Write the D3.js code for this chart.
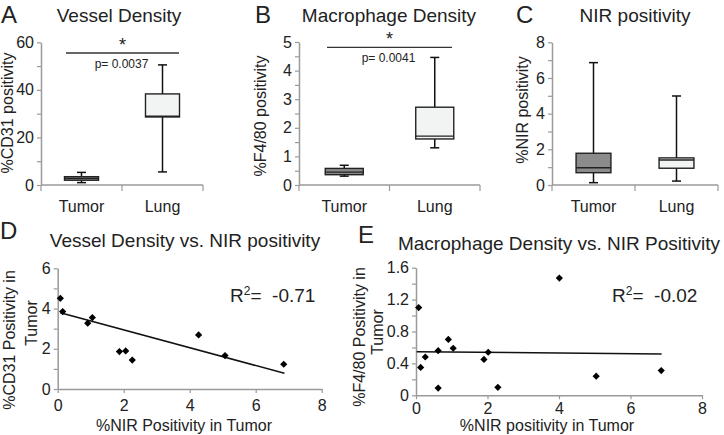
<!DOCTYPE html>
<html><head><meta charset="utf-8">
<script src="https://cdn.jsdelivr.net/npm/d3@7"></script>
<style>
html,body{margin:0;padding:0;background:#fff;}
svg{display:block;font-family:"Liberation Sans",Arial,Helvetica,sans-serif;}
</style></head>
<body>
<svg id="chart" width="724" height="435"></svg>
<script>
// ---------------- DATA ----------------
const categories = ["Tumor", "Lung"];
// box stats per category: [min, q1, median, q3, max]
const cd31Box = [[1.0, 2.0, 2.8, 3.5, 5.3], [5.5, 28.6, 28.9, 38.3, 50.5]];
const f480Box = [[0.31, 0.36, 0.45, 0.58, 0.69], [1.30, 1.61, 1.71, 2.72, 4.46]];
const nirBox  = [[0.13, 0.69, 0.97, 1.78, 6.86], [0.22, 0.94, 1.40, 1.52, 4.99]];
const pValues = ["p= 0.0037", "p= 0.0041"];

// scatter D: vessel density vs NIR
const nirD  = [0.08, 0.15, 0.91, 1.05, 1.87, 2.06, 2.26, 4.27, 5.07, 6.85];
const cd31D = [4.51, 3.85, 3.27, 3.55, 1.86, 1.89, 1.44, 2.69, 1.66, 1.23];
const trendDx = [0.08, 6.87], trendDy = [3.79, 0.78];
const r2D = "-0.71";

// scatter E: macrophage density vs NIR
const nirE  = [0.075, 0.13, 0.26, 0.62, 0.62, 0.905, 1.04, 1.90, 2.02, 2.29, 4.01, 5.04, 6.86];
const f480E = [1.10, 0.35, 0.48, 0.09, 0.56, 0.70, 0.59, 0.45, 0.54, 0.10, 1.47, 0.24, 0.31];
const trendEx = [0.02, 6.87], trendEy = [0.547, 0.518];
const r2E = "-0.02";

// ---------------- DRAW ----------------
const svg = d3.select("#chart");
const AX = "#9a9a9a", TXT = "#222", FONT = 16;
const boxFill = ["#8b8b8b", "#f2f4f4"];

function isMajor(d, step) { return Math.abs(d / step - Math.round(d / step)) < 1e-6; }

function leftAxis(scale, x, max, minor, major, fmt) {
  const g = svg.append("g").attr("transform", `translate(${x},0)`);
  g.call(d3.axisLeft(scale).tickValues(d3.range(0, max + 1e-9, minor))
    .tickSize(4).tickSizeOuter(0).tickPadding(3)
    .tickFormat(d => isMajor(d, major) ? fmt(d) : ""));
  g.select(".domain").attr("stroke", AX).attr("stroke-width", 1.5);
  g.selectAll(".tick line").attr("stroke", AX).attr("stroke-width", 1.2);
  g.selectAll(".tick text").attr("fill", TXT).style("font-size", FONT + "px")
    .style("font-family", "'Liberation Sans',Arial,sans-serif");
  return g;
}
function bottomAxis(scale, y, max, step, pad) {
  const g = svg.append("g").attr("transform", `translate(0,${y})`);
  g.call(d3.axisBottom(scale).tickValues(d3.range(0, max + 1e-9, step))
    .tickSize(4).tickSizeOuter(0).tickPadding(pad).tickFormat(d3.format("d")));
  g.select(".domain").attr("stroke", AX).attr("stroke-width", 1.5);
  g.selectAll(".tick line").attr("stroke", AX).attr("stroke-width", 1.2);
  g.selectAll(".tick text").attr("fill", TXT).style("font-size", FONT + "px")
    .style("font-family", "'Liberation Sans',Arial,sans-serif");
  return g;
}
function text(x, y, s, size, anchor, rot) {
  const t = svg.append("text").attr("x", x).attr("y", y).attr("fill", TXT)
    .style("font-size", size + "px").attr("text-anchor", anchor || "middle").text(s);
  if (rot) t.attr("transform", `rotate(-90,${x},${y})`);
  return t;
}

// ---- box panels ----
const boxPanels = [
  {data: cd31Box, x0: 41, x1: 203, y0: 185, y1: 42.3, max: 60, minor: 10, major: 20,
   letter: "A", lx: 1, title: "Vessel Density", tx: 119, ytitle: "%CD31 positivity", ytx: 13, yty: 113, ysize: 16,
   sig: {value: 55.5, xa: 66, xb: 179, p: pValues[0]}},
  {data: f480Box, x0: 299, x1: 480, y0: 185, y1: 42, max: 5, minor: 0.5, major: 1,
   letter: "B", lx: 255, title: "Macrophage Density", tx: 389, ytitle: "%F4/80 positivity", ytx: 266, yty: 116, ysize: 16,
   sig: {value: 4.81, xa: 327, xb: 452, p: pValues[1]}},
  {data: nirBox, x0: 552, x1: 718, y0: 185, y1: 42.3, max: 8, minor: 1, major: 2,
   letter: "C", lx: 516, title: "NIR positivity", tx: 635, ytitle: "%NIR positivity", ytx: 528, yty: 110, ysize: 16,
   sig: null}
];

boxPanels.forEach(p => {
  const x = d3.scaleBand().domain(categories).range([p.x0, p.x1]);
  const y = d3.scaleLinear().domain([0, p.max]).range([p.y0, p.y1]);
  leftAxis(y, p.x0, p.max, p.minor, p.major, d3.format("d"));
  svg.append("line").attr("x1", p.x0).attr("x2", p.x1).attr("y1", p.y0).attr("y2", p.y0)
    .attr("stroke", AX).attr("stroke-width", 1.5);
  const bounds = [x(categories[0]), x(categories[1]), x(categories[1]) + x.bandwidth()];
  bounds.forEach(b => svg.append("line").attr("x1", b).attr("x2", b).attr("y1", p.y0).attr("y2", p.y0 + 6)
    .attr("stroke", AX).attr("stroke-width", 1.2));
  categories.forEach((c, i) => {
    const cx = x(c) + x.bandwidth() / 2, w = x.bandwidth() * 0.42, s = p.data[i];
    const g = svg.append("g");
    g.append("line").attr("x1", cx).attr("x2", cx).attr("y1", y(s[0])).attr("y2", y(s[4]))
      .attr("stroke", "#111").attr("stroke-width", 1.5);
    [s[0], s[4]].forEach(v => g.append("line").attr("x1", cx - 4.5).attr("x2", cx + 4.5)
      .attr("y1", y(v)).attr("y2", y(v)).attr("stroke", "#111").attr("stroke-width", 1.5));
    g.append("rect").attr("x", cx - w / 2).attr("width", w).attr("y", y(s[3])).attr("height", y(s[1]) - y(s[3]))
      .attr("fill", boxFill[i]).attr("stroke", "#222").attr("stroke-width", 1.4);
    g.append("line").attr("x1", cx - w / 2).attr("x2", cx + w / 2).attr("y1", y(s[2])).attr("y2", y(s[2]))
      .attr("stroke", "#222").attr("stroke-width", 1.4);
    text(cx, 212, c, 16);
  });
  text(p.lx, 23, p.letter, 24, "start");
  text(p.tx, 22, p.title, 19);
  text(p.ytx, p.yty, p.ytitle, p.ysize, "middle", true);
  if (p.sig) {
    const sy = y(p.sig.value);
    svg.append("line").attr("x1", p.sig.xa).attr("x2", p.sig.xb).attr("y1", sy).attr("y2", sy)
      .attr("stroke", "#333").attr("stroke-width", 1.3);
    const mx = (p.sig.xa + p.sig.xb) / 2;
    text(mx, sy - 2, "*", 18);
    text(mx - 1, sy + 15, p.sig.p, 12);
  }
});

// ---- scatter panels ----
const scatPanels = [
  {xs: nirD, ys: cd31D, tx: trendDx, ty: trendDy, x0: 57.7, x1: 321.7, y0: 389, y1: 268.3, ymax: 6, minor: 1, major: 2, pad: 7,
   yfmt: d3.format("d"), letter: "D", lx: 0, ly: 239, title: "Vessel Density vs. NIR positivity", tX: 185, tY: 247,
   yt1: "%CD31 Positivity in", yt1x: 15, yt1y: 340, yt2: "Tumor", yt2x: 37, yt2y: 323,
   xtitle: "%NIR Positivity in Tumor", xtx: 184, xty: 431, r2: r2D, rx: 230, ry: 302},
  {xs: nirE, ys: f480E, tx: trendEx, ty: trendEy, x0: 416, x1: 702, y0: 395.3, y1: 267.7, ymax: 1.6, minor: 0.2, major: 0.4, pad: 3,
   yfmt: d => d === 0 ? "0" : d3.format(".1f")(d), letter: "E", lx: 358, ly: 243, title: "Macrophage Density vs. NIR Positivity", tX: 559, tY: 250,
   yt1: "%F4/80 Positivity in", yt1x: 365, yt1y: 337, yt2: "Tumor", yt2x: 383, yt2y: 332,
   xtitle: "%NIR positivity in Tumor", xtx: 547, xty: 431, r2: r2E, rx: 612, ry: 302}
];

scatPanels.forEach(p => {
  const x = d3.scaleLinear().domain([0, 8]).range([p.x0, p.x1]);
  const y = d3.scaleLinear().domain([0, p.ymax]).range([p.y0, p.y1]);
  bottomAxis(x, p.y0, 8, 2, p.pad);
  leftAxis(y, p.x0, p.ymax, p.minor, p.major, p.yfmt);
  svg.append("line").attr("x1", x(p.tx[0])).attr("x2", x(p.tx[1])).attr("y1", y(p.ty[0])).attr("y2", y(p.ty[1]))
    .attr("stroke", "#111").attr("stroke-width", 1.5);
  const sym = d3.symbol().type(d3.symbolSquare).size(26);
  svg.append("g").selectAll("path").data(p.xs.map((v, i) => [v, p.ys[i]])).join("path")
    .attr("d", sym).attr("fill", "#000")
    .attr("transform", d => `translate(${x(d[0])},${y(d[1])}) rotate(45)`);
  text(p.lx, p.ly, p.letter, 24, "start");
  text(p.tX, p.tY, p.title, 19);
  text(p.yt1x, p.yt1y, p.yt1, 16, "middle", true);
  text(p.yt2x, p.yt2y, p.yt2, 16, "middle", true);
  text(p.xtx, p.xty, p.xtitle, 16);
  const r = text(p.rx, p.ry, "R", 19, "start");
  r.append("tspan").attr("dy", -7).style("font-size", "12px").text("2");
  r.append("tspan").attr("dy", 7).text("=\u00a0\u00a0" + p.r2);
});
</script>
</body></html>
